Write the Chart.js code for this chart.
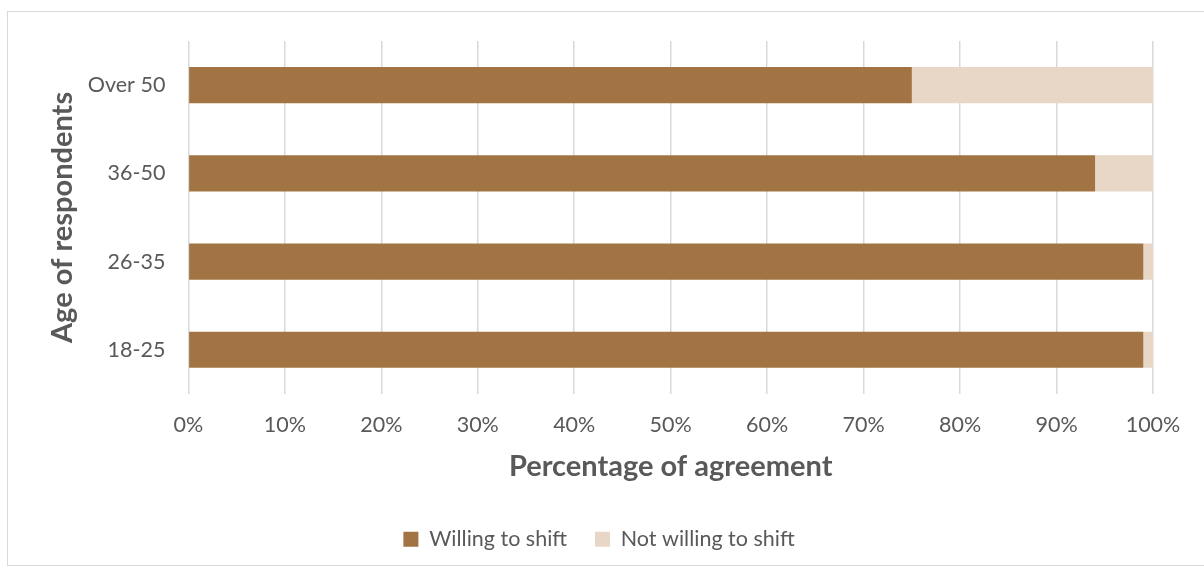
<!DOCTYPE html>
<html>
<head>
<meta charset="utf-8">
<script src="https://cdn.jsdelivr.net/npm/chart.js@4/dist/chart.umd.min.js"></script>
<style>
  body { margin: 0; background: #fff; }
  #frame { position: absolute; left: 7px; top: 11px; width: 1205px; height: 555px; border: 1.5px solid #d9d9d9; box-sizing: border-box; }
  #wrap { position: absolute; left: 0; top: 0; width: 1204px; height: 572px; }
</style>
</head>
<body>
<div id="frame"></div>
<div id="wrap"><canvas id="ageChart" width="1204" height="572"></canvas></div>
<script>
// Age groups, top to bottom as drawn
const ageGroups = ['Over 50', '36-50', '26-35', '18-25'];

// Share of respondents (%)
const willingToShift = [75, 94, 99, 99];
const notWillingToShift = [25, 6, 1, 1];

const textGray = '#595959';
const fontName = 'Lato, "Open Sans", sans-serif';

const config = {
    type: 'bar',
    data: {
        labels: ageGroups,
        datasets: [{
            label: 'Willing to shift',
            data: willingToShift,
            backgroundColor: '#a27444',
            barPercentage: 0.41,
            categoryPercentage: 1
        }, {
            label: 'Not willing to shift',
            data: notWillingToShift,
            backgroundColor: '#e8d6c6',
            barPercentage: 0.41,
            categoryPercentage: 1
        }]
    },
    options: {
        indexAxis: 'y',
        responsive: false,
        animation: false,
        layout: { padding: { top: 41, right: 51, bottom: 12, left: 45 } },
        scales: {
            x: {
                stacked: true,
                min: 0,
                max: 100,
                ticks: {
                    stepSize: 10,
                    color: textGray,
                    font: { family: fontName, size: 21.5 },
                    padding: 18,
                    callback: v => v + '%'
                },
                grid: { color: '#d9d9d9', lineWidth: 1.5, drawTicks: false },
                border: { display: false },
                title: {
                    display: true,
                    text: 'Percentage of agreement',
                    color: textGray,
                    font: { family: fontName, size: 29, weight: 'bold' },
                    padding: { top: -6, bottom: 16 }
                }
            },
            y: {
                stacked: true,
                ticks: {
                    color: textGray,
                    font: { family: fontName, size: 21.5 },
                    padding: 15
                },
                grid: { display: false },
                border: { display: false },
                title: {
                    display: true,
                    text: 'Age of respondents',
                    color: textGray,
                    font: { family: fontName, size: 29, weight: 'bold' },
                    padding: { top: 0, bottom: -7 }
                }
            }
        },
        plugins: {
            legend: {
                position: 'bottom',
                labels: {
                    color: textGray,
                    font: { family: fontName, size: 21.5 },
                    boxWidth: 15,
                    boxHeight: 15,
                    padding: 28
                }
            },
            tooltip: { enabled: false }
        }
    }
};

document.addEventListener('DOMContentLoaded', function() {
    const ctx = document.getElementById('ageChart').getContext('2d');
    new Chart(ctx, config);
});
</script>
</body>
</html>
